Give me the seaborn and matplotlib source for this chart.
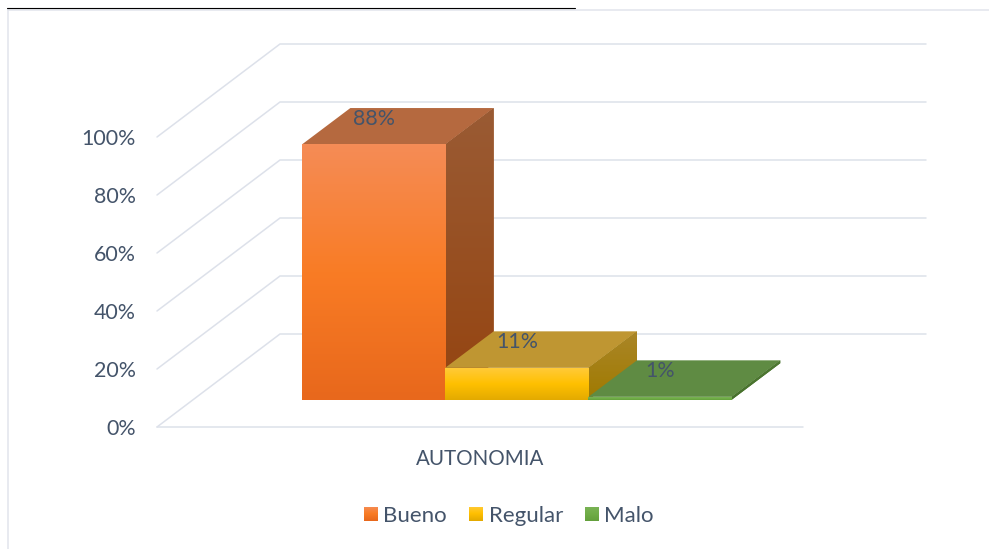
import numpy as np
import pandas as pd
import matplotlib
matplotlib.use("Agg")
import matplotlib.pyplot as plt
import seaborn as sns
from matplotlib.colors import LinearSegmentedColormap
from matplotlib.lines import Line2D
from matplotlib.patches import Polygon

# values
categories = ["Bueno", "Regular", "Malo"]
values = [88, 11, 1]
y_ticks = [0, 20, 40, 60, 80, 100]
y_labels = ["0%", "20%", "40%", "60%", "80%", "100%"]
x_label = "AUTONOMIA"

# colours per series
front_colors = {
    "Bueno": ["#f58c56", "#f97c25", "#e8681c"],
    "Regular": ["#ffca38", "#ffc000", "#e3aa00"],
    "Malo": ["#7ab356", "#70ad47", "#63a03c"],
}
side_colors = {
    "Bueno": ["#9a5b34", "#954410"],
    "Regular": ["#aa8628", "#a07a00"],
    "Malo": ["#4f7a33", "#47702c"],
}
top_colors = {"Bueno": "#b5693f", "Regular": "#bf9632", "Malo": "#5f8b43"}

TEXT = "#44546a"
GRID = "#dde1ea"
FRAME = "#e1e4ec"

W, H = 989, 549
PX_Y = 2.9     # pixels per percent
PX_X = 143.3   # pixels per category
FLOOR = 9.4    # bars stand this far in front of the wall, in percent

sns.set_theme(style="white")
plt.rcParams["font.family"] = ["Lato", "DejaVu Sans"]

fig = plt.figure(figsize=(W / 100, H / 100), dpi=100, facecolor="white")
ax = fig.add_axes([157 / W, (H - 427) / H, 646 / W, 290 / H])

df = pd.DataFrame({"cat": categories, "val": values})
palette = {c: front_colors[c][1] for c in categories}
sns.barplot(data=df, x="cat", y="val", hue="cat", palette=palette, width=1,
            dodge=False, legend=True, ax=ax, saturation=1, linewidth=0,
            zorder=3, clip_on=False)


def gradient(colors, extent, clip=None, zorder=4):
    cmap = LinearSegmentedColormap.from_list("g", colors)
    im = ax.imshow(np.linspace(0, 1, 128).reshape(-1, 1), cmap=cmap, aspect="auto",
                   extent=extent, zorder=zorder, clip_on=False)
    if clip is not None:
        im.set_clip_on(True)
        im.set_clip_path(clip)
        im.set_clip_box(fig.bbox)
    return im


xmin = (157 - 373.5) / PX_X
xmax = (803 - 373.5) / PX_X
ymin, ymax = -FLOOR, 100 - FLOOR

# wall and floor lines
wall_dx = 123 / PX_X
wall_dy = 93 / PX_Y
for v in y_ticks:
    y = v - FLOOR
    ax.plot([xmin, xmin + wall_dx, xmax + wall_dx], [y, y + wall_dy, y + wall_dy],
            color=GRID, lw=1.1, zorder=1, clip_on=False, solid_joinstyle="miter")
ax.plot([xmin, xmax], [ymin, ymin], color=GRID, lw=1.1, zorder=1, clip_on=False)

# 3d faces, built from the bars seaborn drew; later bars sit over earlier ones
dx = 48.5 / PX_X
dy = 36.5 / PX_Y
bars = list(ax.patches)
for i, (cat, val, bar) in enumerate(zip(categories, values, bars)):
    z = 4 + i * 5
    x0 = bar.get_x()
    x1 = x0 + bar.get_width()
    top = Polygon([(x0, val), (x1, val), (x1 + dx, val + dy), (x0 + dx, val + dy)],
                  closed=True, fc=top_colors[cat], ec="none", zorder=z, clip_on=False)
    ax.add_patch(top)
    side = Polygon([(x1, 0), (x1 + dx, dy), (x1 + dx, val + dy), (x1, val)],
                   closed=True, fc=side_colors[cat][1], ec="none", zorder=z, clip_on=False)
    ax.add_patch(side)
    gradient(side_colors[cat], (x1, x1 + dx, 0, val + dy), clip=side, zorder=z + 1)
    gradient(front_colors[cat], (x0, x1, 0, val), zorder=z + 2)
    ax.text((x0 + x1) / 2, val + 26 / PX_Y, f"{val}%", ha="center", va="center",
            color=TEXT, fontsize=15.4, zorder=30)

ax.set_xlim(xmin, xmax)
ax.set_ylim(ymin, ymax)
ax.set_yticks([v - FLOOR for v in y_ticks], y_labels)
ax.set_xticks([])
ax.tick_params(axis="y", length=0, pad=15.2, labelsize=15.4, labelcolor=TEXT)
ax.set_ylabel("")
ax.set_xlabel(x_label, color=TEXT, fontsize=14.8, labelpad=15.5)
sns.despine(ax=ax, left=True, bottom=True)
ax.patch.set_alpha(0)

sns.move_legend(ax, "center", bbox_to_anchor=(509 / W, (H - 516) / H),
                bbox_transform=fig.transFigure, ncol=3, frameon=False, title=None,
                fontsize=16, labelcolor=TEXT, handlelength=0.62, handleheight=0.62,
                handletextpad=0.25, columnspacing=1.0)

# gradient swatches over the legend handles
fig.canvas.draw()
for cat, handle in zip(categories, ax.get_legend().legend_handles):
    box = handle.get_window_extent()
    sw = fig.add_axes([box.x0 / W, box.y0 / H, box.width / W, box.height / H])
    sw.imshow(np.linspace(0, 1, 32).reshape(-1, 1), aspect="auto",
              cmap=LinearSegmentedColormap.from_list("s", front_colors[cat]))
    sw.axis("off")

# page frame around the pasted chart
fig.add_artist(Line2D([8 / W, 8 / W], [0, 1 - 9 / H], color=FRAME, lw=1.1))
fig.add_artist(Line2D([8 / W, 1], [1 - 9.5 / H, 1 - 9.5 / H], color=FRAME, lw=1.1))
fig.add_artist(Line2D([7 / W, 575 / W], [1 - 8 / H, 1 - 8 / H], color="black", lw=0.8))

fig.savefig("out.png", dpi=100)
